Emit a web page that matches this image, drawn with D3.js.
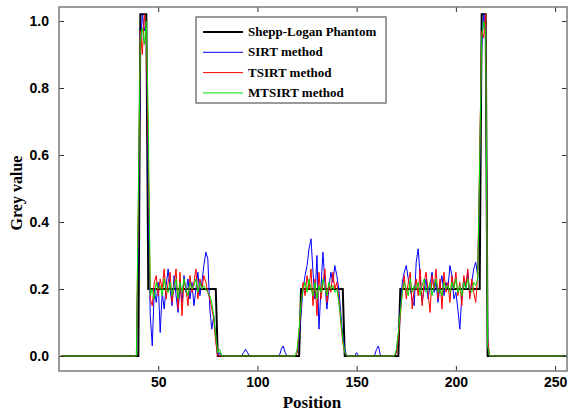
<!DOCTYPE html>
<html>
<head>
<meta charset="utf-8">
<script src="https://cdn.jsdelivr.net/npm/d3@7"></script>
<style>
    body { margin: 0; background: #fff; }
    .tick text { font-family: "Liberation Sans", Arial, sans-serif; font-weight: bold; font-size: 14px; fill: #000; }
    .tick line { stroke: #333; }
</style>
</head>
<body>
<div id="chart"></div>
<script>
// grey value along the profile, positions 1..256 (16 per row)
var phantom = [
    0,0,0,0,0,0,0,0,0,0,0,0,0,0,0,0,
    0,0,0,0,0,0,0,0,0,0,0,0,0,0,0,0,
    0,0,0,0,0,0,0,0,1.02,1.02,1.02,1.02,0.2,0.2,0.2,0.2,
    0.2,0.2,0.2,0.2,0.2,0.2,0.2,0.2,0.2,0.2,0.2,0.2,0.2,0.2,0.2,0.2,
    0.2,0.2,0.2,0.2,0.2,0.2,0.2,0.2,0.2,0.2,0.2,0.2,0.2,0.2,0.2,0,
    0,0,0,0,0,0,0,0,0,0,0,0,0,0,0,0,
    0,0,0,0,0,0,0,0,0,0,0,0,0,0,0,0,
    0,0,0,0,0,0,0,0,0,0.2,0.2,0.2,0.2,0.2,0.2,0.2,
    0.2,0.2,0.2,0.2,0.2,0.2,0.2,0.2,0.2,0.2,0.2,0.2,0.2,0.2,0.2,0,
    0,0,0,0,0,0,0,0,0,0,0,0,0,0,0,0,
    0,0,0,0,0,0,0,0,0,0,0,0.2,0.2,0.2,0.2,0.2,
    0.2,0.2,0.2,0.2,0.2,0.2,0.2,0.2,0.2,0.2,0.2,0.2,0.2,0.2,0.2,0.2,
    0.2,0.2,0.2,0.2,0.2,0.2,0.2,0.2,0.2,0.2,0.2,0.2,0.2,0.2,0.2,0.2,
    0.2,0.2,0.2,0.2,1.02,1.02,1.02,0,0,0,0,0,0,0,0,0,
    0,0,0,0,0,0,0,0,0,0,0,0,0,0,0,0,
    0,0,0,0,0,0,0,0,0,0,0,0,0,0,0,0
];

var sirt = [
    0,0,0,0,0,0,0,0,0,0,0,0,0,0,0,0,
    0,0,0,0,0,0,0,0,0,0,0,0,0,0,0,0,
    0,0,0,0,0,0,0,0.35,0.92,1.02,0.97,1.0,0.45,0.12,0.03,0.2,
    0.16,0.22,0.07,0.19,0.14,0.21,0.26,0.2,0.15,0.24,0.18,0.13,0.21,0.16,0.24,0.19,
    0.23,0.17,0.22,0.15,0.2,0.25,0.18,0.22,0.27,0.31,0.29,0.14,0.08,0.12,0.05,0,
    0.01,0,0,0,0,0,0,0,0,0,0,0,0.01,0.02,0.01,0,
    0,0,0,0,0,0,0,0,0,0,0,0,0,0,0,0.02,
    0.03,0.01,0,0,0,0,0,0.01,0.05,0.13,0.2,0.24,0.27,0.32,0.35,0.25,
    0.17,0.3,0.08,0.2,0.31,0.22,0.14,0.2,0.25,0.22,0.27,0.24,0.2,0.13,0.06,0.02,
    0,0,0,0,0,0.01,0,0,0,0,0,0,0,0,0,0.02,
    0.03,0,0,0,0,0,0,0,0,0.01,0.06,0.14,0.22,0.25,0.27,0.23,
    0.2,0.17,0.15,0.28,0.32,0.24,0.16,0.2,0.23,0.17,0.21,0.25,0.19,0.22,0.16,0.21,
    0.24,0.18,0.22,0.2,0.27,0.24,0.17,0.19,0.14,0.08,0.18,0.23,0.2,0.25,0.18,0.22,
    0.26,0.28,0.24,0.55,0.92,1.02,0.98,0.04,0,0,0,0,0,0,0,0,
    0,0,0,0,0,0,0,0,0,0,0,0,0,0,0,0,
    0,0,0,0,0,0,0,0,0,0,0,0,0,0,0,0
];

var tsirt = [
    0,0,0,0,0,0,0,0,0,0,0,0,0,0,0,0,
    0,0,0,0,0,0,0,0,0,0,0,0,0,0,0,0,
    0,0,0,0,0,0,0,0.45,0.97,0.9,1.02,0.95,0.6,0.17,0.15,0.22,
    0.24,0.18,0.23,0.2,0.26,0.17,0.22,0.25,0.16,0.21,0.26,0.14,0.25,0.12,0.23,0.2,
    0.15,0.24,0.19,0.22,0.26,0.17,0.23,0.2,0.24,0.22,0.19,0.17,0.14,0.11,0.04,0,
    0,0,0,0,0,0,0,0,0,0,0,0,0,0,0,0,
    0,0,0,0,0,0,0,0,0,0,0,0,0,0,0,0,
    0,0,0,0,0,0,0,0.01,0.07,0.15,0.22,0.18,0.24,0.2,0.26,0.15,
    0.23,0.12,0.25,0.17,0.22,0.26,0.16,0.21,0.19,0.25,0.2,0.22,0.17,0.1,0.04,0.01,
    0,0,0,0,0,0,0,0,0,0,0,0,0,0,0,0,
    0,0,0,0,0,0,0,0,0,0.01,0.05,0.12,0.19,0.24,0.17,0.22,
    0.25,0.14,0.2,0.23,0.18,0.26,0.15,0.22,0.25,0.19,0.13,0.24,0.2,0.26,0.17,0.23,
    0.14,0.25,0.19,0.22,0.16,0.24,0.2,0.25,0.18,0.22,0.15,0.24,0.21,0.26,0.17,0.23,
    0.19,0.16,0.24,0.6,0.97,0.95,1.02,0.05,0,0,0,0,0,0,0,0,
    0,0,0,0,0,0,0,0,0,0,0,0,0,0,0,0,
    0,0,0,0,0,0,0,0,0,0,0,0,0,0,0,0
];

var mtsirt = [
    0,0,0,0,0,0,0,0,0,0,0,0,0,0,0,0,
    0,0,0,0,0,0,0,0,0,0,0,0,0,0,0,0,
    0,0,0,0,0,0,0,0.5,0.95,0.98,0.93,1.0,0.7,0.18,0.2,0.17,
    0.22,0.2,0.21,0.18,0.23,0.2,0.19,0.22,0.18,0.21,0.23,0.17,0.22,0.19,0.23,0.2,
    0.18,0.22,0.2,0.21,0.23,0.19,0.22,0.2,0.21,0.2,0.19,0.18,0.16,0.12,0.06,0.01,
    0.02,0,0,0,0,0,0,0,0,0,0,0,0,0,0,0,
    0,0,0,0,0,0,0,0,0,0,0,0,0,0,0,0,
    0,0,0,0,0,0,0,0.02,0.08,0.16,0.2,0.22,0.19,0.23,0.2,0.18,
    0.22,0.17,0.21,0.19,0.23,0.2,0.18,0.22,0.2,0.21,0.19,0.2,0.16,0.11,0.05,0.01,
    0,0,0,0,0,0,0,0,0,0,0,0,0,0,0,0,
    0,0,0,0,0,0,0,0,0,0.02,0.07,0.13,0.19,0.22,0.2,0.18,
    0.23,0.19,0.21,0.2,0.22,0.18,0.21,0.23,0.19,0.2,0.22,0.18,0.21,0.23,0.19,0.2,
    0.18,0.22,0.2,0.21,0.19,0.22,0.2,0.23,0.19,0.21,0.18,0.22,0.2,0.23,0.2,0.19,
    0.22,0.21,0.23,0.58,0.95,1.0,0.97,0.03,0,0,0,0,0,0,0,0,
    0,0,0,0,0,0,0,0,0,0,0,0,0,0,0,0,
    0,0,0,0,0,0,0,0,0,0,0,0,0,0,0,0
];

var seriesNames = ["Shepp-Logan Phantom", "SIRT method", "TSIRT method", "MTSIRT method"];
var seriesColors = ["#000000", "#0000ff", "#ff0000", "#00e000"];
var seriesWidths = [2, 1, 1, 1];
var xTicks = [50, 100, 150, 200, 250];
var yTicks = [0, 0.2, 0.4, 0.6, 0.8, 1.0];

var svgWidth = 570, svgHeight = 416;
var plotLeft = 59, plotRight = 567, plotTop = 7, plotBottom = 371;

var svg = d3.select("#chart").append("svg").attr("width", svgWidth).attr("height", svgHeight);

var x = d3.scaleLinear().domain([0, 256]).range([plotLeft, plotRight]);
var y = d3.scaleLinear().domain([-0.0448, 1.0418]).range([plotBottom, plotTop]);

svg.append("clipPath").attr("id", "plotclip")
    .append("rect").attr("x", plotLeft).attr("y", plotTop)
    .attr("width", plotRight - plotLeft).attr("height", plotBottom - plotTop);

var line = d3.line()
    .x(function(d, i) { return x(i + 1); })
    .y(function(d) { return y(d); });

var allSeries = [phantom, sirt, tsirt, mtsirt];
var g = svg.append("g").attr("clip-path", "url(#plotclip)");
g.selectAll("path")
    .data(allSeries)
    .enter()
    .append("path")
    .attr("d", line)
    .attr("fill", "none")
    .attr("stroke", function(d, i) { return seriesColors[i]; })
    .attr("stroke-width", function(d, i) { return seriesWidths[i]; });

// ticks point inward on all four sides
var xAxis = d3.axisBottom(x).tickValues(xTicks).tickSizeInner(-5).tickSizeOuter(0).tickPadding(6).tickFormat(d3.format("d"));
var yAxis = d3.axisLeft(y).tickValues(yTicks).tickSizeInner(-5).tickSizeOuter(0).tickPadding(10).tickFormat(d3.format(".1f"));

svg.append("g").attr("transform", "translate(0," + plotBottom + ")").call(xAxis).select(".domain").remove();
svg.append("g").attr("transform", "translate(" + plotLeft + ",0)").call(yAxis).select(".domain").remove();
svg.append("g").attr("transform", "translate(0," + plotTop + ")")
    .call(d3.axisTop(x).tickValues(xTicks).tickSizeInner(-5).tickSizeOuter(0).tickFormat(""))
    .select(".domain").remove();
svg.append("g").attr("transform", "translate(" + plotRight + ",0)")
    .call(d3.axisRight(y).tickValues(yTicks).tickSizeInner(-5).tickSizeOuter(0).tickFormat(""))
    .select(".domain").remove();

svg.append("rect")
    .attr("x", plotLeft).attr("y", plotTop)
    .attr("width", plotRight - plotLeft).attr("height", plotBottom - plotTop)
    .attr("fill", "none")
    .attr("stroke", "#7a7a7a")
    .attr("stroke-width", 1.5);

svg.append("text")
    .attr("x", 312).attr("y", 408)
    .attr("text-anchor", "middle")
    .style("font-family", "'Liberation Serif', 'Times New Roman', serif")
    .style("font-weight", "bold")
    .style("font-size", "17px")
    .text("Position");

svg.append("text")
    .attr("transform", "translate(22,193) rotate(-90)")
    .attr("text-anchor", "middle")
    .style("font-family", "'Liberation Serif', 'Times New Roman', serif")
    .style("font-weight", "bold")
    .style("font-size", "16px")
    .text("Grey value");

// legend
var legend = svg.append("g");
legend.append("rect")
    .attr("x", 196).attr("y", 17).attr("width", 190).attr("height", 86)
    .attr("fill", "#fff")
    .attr("stroke", "#7a7a7a")
    .attr("stroke-width", 1.5);

var rows = legend.selectAll(".row")
    .data(seriesNames)
    .enter()
    .append("g")
    .attr("class", "row")
    .attr("transform", function(d, i) { return "translate(0," + (32 + i * 20.3) + ")"; });

rows.append("line")
    .attr("x1", 203).attr("x2", 243)
    .attr("stroke", function(d, i) { return seriesColors[i]; })
    .attr("stroke-width", function(d, i) { return seriesWidths[i]; });

rows.append("text")
    .attr("x", 248).attr("y", 4)
    .style("font-family", "'Liberation Serif', 'Times New Roman', serif")
    .style("font-weight", "bold")
    .style("font-size", "13px")
    .text(function(d) { return d; });
</script>
</body>
</html>
